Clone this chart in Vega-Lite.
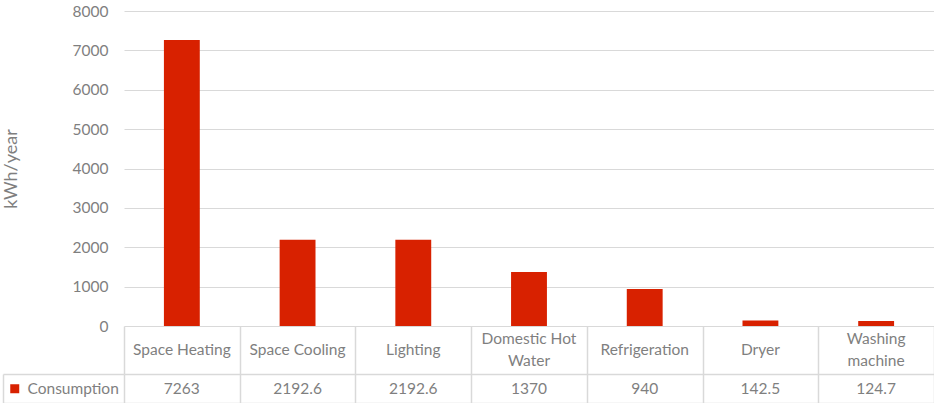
{
  "$schema": "https://vega.github.io/schema/vega-lite/v6.json",
  "background": "white",
  "padding": {"left": 2, "top": 4, "right": 0, "bottom": 0},
  "spacing": 0,
  "bounds": "flush",
  "data": {
    "values": [
      {"category": "Space Heating", "label": "Space Heating", "series": "Consumption", "value": 7263},
      {"category": "Space Cooling", "label": "Space Cooling", "series": "Consumption", "value": 2192.6},
      {"category": "Lighting", "label": "Lighting", "series": "Consumption", "value": 2192.6},
      {"category": "Domestic Hot Water", "label": "Domestic Hot\nWater", "series": "Consumption", "value": 1370},
      {"category": "Refrigeration", "label": "Refrigeration", "series": "Consumption", "value": 940},
      {"category": "Dryer", "label": "Dryer", "series": "Consumption", "value": 142.5},
      {"category": "Washing machine", "label": "Washing\nmachine", "series": "Consumption", "value": 124.7}
    ]
  },
  "config": {
    "font": "Lato",
    "view": {"stroke": null},
    "axis": {"labelColor": "#7f7f7f", "titleColor": "#7f7f7f", "gridColor": "#d9d9d9", "domainColor": "#d9d9d9", "tickColor": "#d9d9d9"}
  },
  "vconcat": [
    {
      "width": 810,
      "height": 315,
      "mark": {"type": "bar", "width": {"band": 0.31}},
      "encoding": {
        "x": {
          "field": "category", "type": "nominal", "sort": null,
          "scale": {
            "domain": ["Space Heating", "Space Cooling", "Lighting", "Domestic Hot Water", "Refrigeration", "Dryer", "Washing machine"],
            "paddingInner": 0, "paddingOuter": 0
          },
          "axis": null
        },
        "y": {
          "field": "value", "type": "quantitative",
          "scale": {"domain": [0, 8000], "nice": false},
          "axis": {
            "values": [0, 1000, 2000, 3000, 4000, 5000, 6000, 7000, 8000],
            "format": "d",
            "title": "kWh/year",
            "titleFontSize": 18,
            "titleFontWeight": "normal",
            "titlePadding": 52,
            "labelFontSize": 15.5,
            "labelPadding": 16,
            "domain": false,
            "ticks": false,
            "grid": true
          }
        },
        "color": {
          "field": "series", "type": "nominal",
          "scale": {"range": ["#d82100"]},
          "legend": {
            "orient": "none", "legendX": -117, "legendY": 370,
            "title": null,
            "symbolType": "square", "symbolSize": 81, "symbolStrokeWidth": 0,
            "labelFontSize": 15.5, "labelColor": "#7f7f7f", "labelOffset": 5,
            "padding": 0
          }
        }
      }
    },
    {
      "width": 810,
      "height": 48,
      "encoding": {
        "x": {
          "field": "category", "type": "nominal", "sort": null,
          "scale": {
            "domain": ["Space Heating", "Space Cooling", "Lighting", "Domestic Hot Water", "Refrigeration", "Dryer", "Washing machine"],
            "paddingInner": 0, "paddingOuter": 0
          },
          "axis": {"title": null, "labels": false, "ticks": false, "domain": false, "grid": true, "tickBand": "extent", "gridWidth": 1.5}
        },
        "text": {"field": "label"}
      },
      "layer": [
        {
          "transform": [{"filter": "indexof(datum.label, '\\n') < 0"}],
          "mark": {"type": "text", "fontSize": 15.5, "color": "#7f7f7f"}
        },
        {
          "transform": [{"filter": "indexof(datum.label, '\\n') >= 0"}],
          "mark": {"type": "text", "lineBreak": "\n", "fontSize": 15.5, "color": "#7f7f7f", "lineHeight": 22, "dy": -11}
        }
      ]
    },
    {
      "width": 810,
      "height": 29,
      "mark": {"type": "text", "fontSize": 15.5, "color": "#7f7f7f"},
      "encoding": {
        "x": {
          "field": "category", "type": "nominal", "sort": null,
          "scale": {
            "domain": ["Space Heating", "Space Cooling", "Lighting", "Domestic Hot Water", "Refrigeration", "Dryer", "Washing machine"],
            "paddingInner": 0, "paddingOuter": 0
          },
          "axis": {"title": null, "labels": false, "ticks": false, "domain": false, "grid": true, "tickBand": "extent", "gridWidth": 1.5}
        },
        "y": {
          "field": "series", "type": "nominal",
          "axis": {
            "title": null, "labels": false, "offset": 121,
            "domain": true, "domainWidth": 1.5,
            "ticks": true, "tickSize": -121, "tickBand": "extent", "tickWidth": 1.5,
            "grid": true, "gridWidth": 1.5
          }
        },
        "text": {"field": "value", "type": "quantitative", "format": ""}
      }
    }
  ]
}
